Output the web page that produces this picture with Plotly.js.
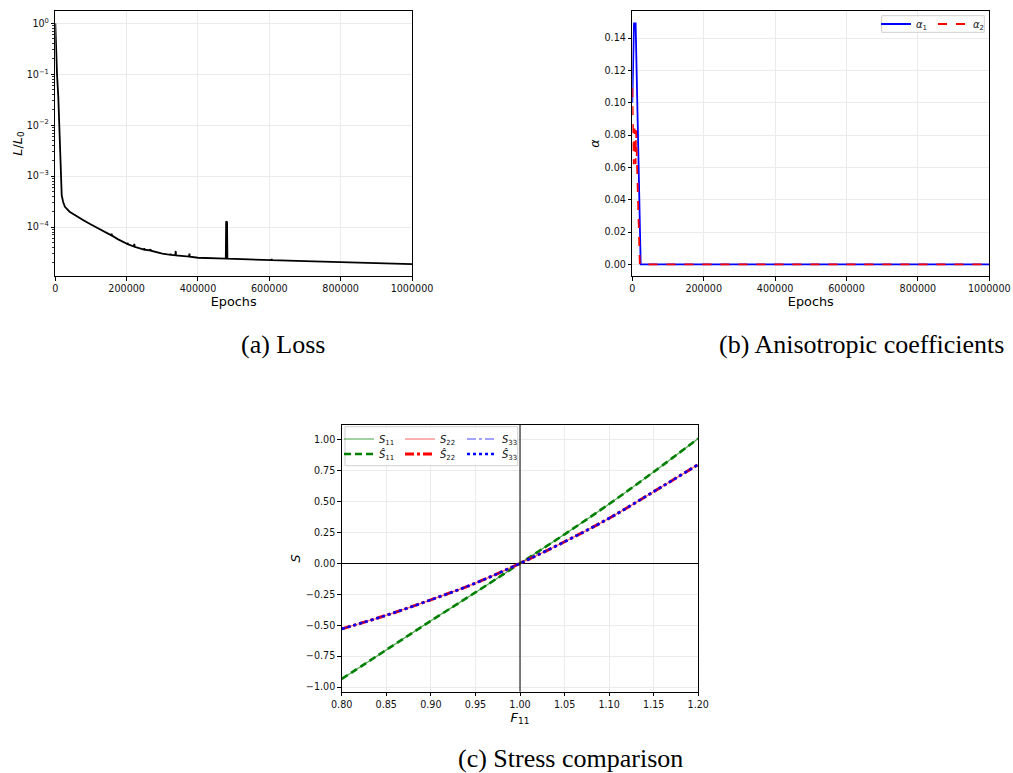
<!DOCTYPE html>
<html>
<head>
<meta charset="utf-8">
<script src="https://cdn.plot.ly/plotly-3.0.1.min.js"></script>
<style>html,body{margin:0;padding:0;background:#fff;}#chart{width:1013px;height:773px;}</style>
</head>
<body>
<div id="chart"></div>
<script>
// ---------------- data ----------------
const lossEpochs = [0,1000,2500,4800,8400,13000,18000,22000,27000,40000,55000,80000,100000,125000,150000,157000,158000,159000,175000,200000,202000,203000,204000,220500,221500,222500,248500,249500,250500,266000,267000,268000,300000,322500,323500,324500,336500,337500,338500,375000,376000,377000,400000,450000,478000,479000,481500,482500,500000,605600,606600,607600,700000,826000,900000,1000000];
const lossValues = [1.0,0.45,0.2,0.1,0.036,3.5e-3,4.2e-4,3.1e-4,2.5e-4,2.0e-4,1.7e-4,1.35e-4,1.12e-4,9.2e-5,7.3e-5,6.9e-5,7.4e-5,6.8e-5,5.8e-5,4.75e-5,4.65e-5,4.9e-5,4.6e-5,4.15e-5,4.7e-5,4.1e-5,3.62e-5,3.85e-5,3.6e-5,3.47e-5,3.7e-5,3.44e-5,3.0e-5,2.86e-5,2.97e-5,2.85e-5,2.8e-5,3.4e-5,2.79e-5,2.63e-5,3.0e-5,2.62e-5,2.5e-5,2.45e-5,2.41e-5,1.3e-4,1.25e-4,2.4e-5,2.38e-5,2.25e-5,2.35e-5,2.24e-5,2.15e-5,2.04e-5,1.97e-5,1.88e-5];

const alpha1Epochs = [0,4800,9300,23500,1000000];
const alpha1Values = [0.10,0.149,0.149,0,0];
const alpha2Epochs = [0,3800,6600,9300,10500,21000,1000000];
const alpha2Values = [0.109,0.062,0.084,0.062,0.083,0,0];

const F11 = [0.80,0.85,0.90,0.95,1.00,1.05,1.10,1.15,1.20];
const S11 = [-0.935,-0.70,-0.465,-0.235,0.0,0.235,0.48,0.74,1.01];
const S11hat = [-0.935,-0.70,-0.465,-0.235,0.0,0.235,0.48,0.74,1.01];
const S22 = [-0.53,-0.42,-0.295,-0.16,0.0,0.175,0.365,0.58,0.80];
const S22hat = [-0.53,-0.42,-0.295,-0.16,0.0,0.175,0.365,0.58,0.80];
const S33 = [-0.53,-0.42,-0.295,-0.16,0.0,0.175,0.365,0.58,0.80];
const S33hat = [-0.53,-0.42,-0.295,-0.16,0.0,0.175,0.365,0.58,0.80];

const logTickVals = [1,0.1,0.01,0.001,0.0001];
const logTickText = ['10<sup>0</sup>','10<sup>−1</sup>','10<sup>−2</sup>','10<sup>−3</sup>','10<sup>−4</sup>'];
const refX = 1.0;

// ---------------- layout helpers ----------------
const W = 1013, H = 773;
const fx = p => p / W;
const fy = p => 1 - p / H;
const FONT = 'DejaVu Sans';
const SERIF = 'Liberation Serif';

function axisStyle(extra) {
  return Object.assign({
    showline: true, mirror: true, linecolor: '#000', linewidth: 1,
    ticks: 'outside', ticklen: 3.5, tickwidth: 1, tickcolor: '#000',
    showgrid: true, gridcolor: '#ebebeb', gridwidth: 1,
    zeroline: false,
    tickfont: {family: FONT, size: 9.6, color: '#111'},
    automargin: false
  }, extra);
}

const traces = [
  {x: lossEpochs, y: lossValues, xaxis: 'x', yaxis: 'y', mode: 'lines',
   line: {color: '#000', width: 1.8}, showlegend: false, hoverinfo: 'skip'},
  {x: alpha1Epochs, y: alpha1Values, xaxis: 'x2', yaxis: 'y2', mode: 'lines', name: '<i>α</i><sub>1</sub>',
   line: {color: '#0000ff', width: 1.8}, legend: 'legend'},
  {x: alpha2Epochs, y: alpha2Values, xaxis: 'x2', yaxis: 'y2', mode: 'lines', name: '<i>α</i><sub>2</sub>',
   line: {color: '#ff0000', width: 1.8, dash: 'dash'}, legend: 'legend2'},
  {x: F11, y: S11, xaxis: 'x3', yaxis: 'y3', mode: 'lines', name: '<i>S</i><sub>11</sub>', line: {shape: 'spline', color: 'rgba(0,128,0,0.7)', width: 1.2}, legend: 'legend3'},
  {x: F11, y: S11hat, xaxis: 'x3', yaxis: 'y3', mode: 'lines', name: '<i>Ŝ</i><sub>11</sub>', line: {shape: 'spline', color: '#008000', width: 2.6, dash: '7px,4px'}, legend: 'legend4'},
  {x: F11, y: S22, xaxis: 'x3', yaxis: 'y3', mode: 'lines', name: '<i>S</i><sub>22</sub>', line: {shape: 'spline', color: 'rgba(255,0,0,0.6)', width: 1.2}, legend: 'legend5'},
  {x: F11, y: S22hat, xaxis: 'x3', yaxis: 'y3', mode: 'lines', name: '<i>Ŝ</i><sub>22</sub>', line: {shape: 'spline', color: '#ff0000', width: 3, dash: 'dashdot'}, legend: 'legend6'},
  {x: F11, y: S33, xaxis: 'x3', yaxis: 'y3', mode: 'lines', name: '<i>S</i><sub>33</sub>', line: {shape: 'spline', color: 'rgba(0,0,255,0.7)', width: 1.2, dash: 'dashdot'}, legend: 'legend7'},
  {x: F11, y: S33hat, xaxis: 'x3', yaxis: 'y3', mode: 'lines', name: '<i>Ŝ</i><sub>33</sub>', line: {shape: 'spline', color: '#0000ff', width: 2.6, dash: 'dot'}, legend: 'legend8'}
];

function leg(px, py) {
  return {x: fx(px), y: fy(py), xanchor: 'left', yanchor: 'middle', bgcolor: 'rgba(0,0,0,0)',
          borderwidth: 0, font: {family: FONT, size: 10, color: '#111'}, itemclick: false};
}

const layout = {
  width: W, height: H,
  margin: {l: 0, r: 0, t: 0, b: 0},
  paper_bgcolor: '#fff', plot_bgcolor: '#fff',
  font: {family: FONT, color: '#000'},
  xaxis: axisStyle({domain: [fx(55.3), fx(412)], range: [0, 1000000], anchor: 'y',
    tickformat: 'd', dtick: 200000, title: {text: 'Epochs', font: {family: FONT, size: 12.8}, standoff: 3}}),
  yaxis: axisStyle({domain: [fy(276), fy(11)], type: 'log', range: [-4.96, 0.24], anchor: 'x',
    tickmode: 'array', tickvals: logTickVals, ticktext: logTickText,
    minor: {ticks: 'outside', ticklen: 2, tickwidth: 0.8, tickcolor: '#000', dtick: 'D1', showgrid: false},
    title: {text: '<i>L</i>/<i>L</i><sub>0</sub>', font: {family: FONT, size: 12.8}, standoff: 1}}),
  xaxis2: axisStyle({domain: [fx(632.3), fx(989.3)], range: [0, 1000000], anchor: 'y2',
    tickformat: 'd', dtick: 200000, title: {text: 'Epochs', font: {family: FONT, size: 12.8}, standoff: 3}}),
  yaxis2: axisStyle({domain: [fy(276), fy(11)], range: [-0.0072, 0.1567], anchor: 'x2',
    dtick: 0.02, tickformat: '.2f', title: {text: '<i>α</i>', font: {family: FONT, size: 12.8}, standoff: 2}}),
  xaxis3: axisStyle({domain: [fx(341.7), fx(698.3)], range: [0.8, 1.2], anchor: 'y3',
    dtick: 0.05, tickformat: '.2f', title: {text: '<i>F</i><sub>11</sub>', font: {family: FONT, size: 12.8}, standoff: 0}}),
  yaxis3: axisStyle({domain: [fy(691.7), fy(425)], range: [-1.038, 1.119], anchor: 'x3',
    dtick: 0.25, tickformat: '.2f', zeroline: true, zerolinecolor: '#000', zerolinewidth: 1,
    title: {text: '<i>S</i>', font: {family: FONT, size: 12.8}, standoff: 2}}),
  shapes: [
    {type: 'line', xref: 'x3', yref: 'y3 domain', x0: refX, x1: refX, y0: 0, y1: 1,
     line: {color: '#000', width: 1}, layer: 'above'},
    {type: 'rect', xref: 'paper', yref: 'paper', x0: fx(881.7), x1: fx(984.3), y0: fy(32.3), y1: fy(15.7),
     line: {color: '#d0d0d0', width: 1}, fillcolor: 'rgba(255,255,255,0.8)', layer: 'above'},
    {type: 'rect', xref: 'paper', yref: 'paper', x0: fx(345), x1: fx(517.7), y0: fy(465.7), y1: fy(426.7),
     line: {color: '#d0d0d0', width: 1}, fillcolor: 'rgba(255,255,255,0.8)', layer: 'above'}
  ],
  legend: leg(876, 24),
  legend2: leg(933, 24),
  legend3: leg(339, 439),
  legend4: leg(339, 454),
  legend5: leg(400, 439),
  legend6: leg(400, 454),
  legend7: leg(462, 439),
  legend8: leg(462, 454),
  annotations: [
    {text: '(a) Loss', xref: 'paper', yref: 'paper', x: fx(283), y: fy(345), xanchor: 'center', yanchor: 'middle',
     showarrow: false, font: {family: SERIF, size: 26, color: '#000'}},
    {text: '(b) Anisotropic coefficients', xref: 'paper', yref: 'paper', x: fx(861), y: fy(345), xanchor: 'center', yanchor: 'middle',
     showarrow: false, font: {family: SERIF, size: 26, color: '#000'}},
    {text: '(c) Stress comparison', xref: 'paper', yref: 'paper', x: fx(570), y: fy(758), xanchor: 'center', yanchor: 'middle',
     showarrow: false, font: {family: SERIF, size: 26, color: '#000'}}
  ]
};

Plotly.newPlot('chart', traces, layout, {displayModeBar: false, staticPlot: true});
</script>
</body>
</html>
